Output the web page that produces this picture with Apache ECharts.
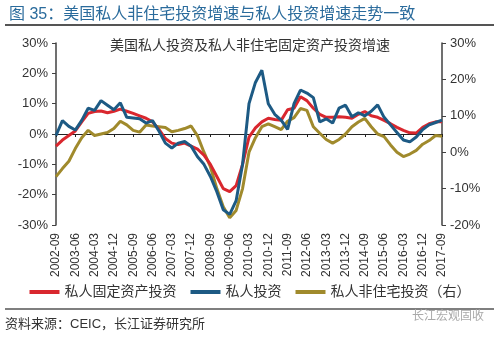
<!DOCTYPE html>
<html><head><meta charset="utf-8">
<script src="https://cdn.jsdelivr.net/npm/echarts@6/dist/echarts.min.js"></script>
<style>html,body{margin:0;padding:0;background:#fff}#c{width:500px;height:340px}</style>
</head><body><div id="c"></div>
<script>
var categories = (function(){var a=[];var y=2002,m=9;for(var i=0;i<61;i++){a.push(y+'-'+(m<10?'0'+m:m));m+=3;if(m>12){m-=12;y++;}}return a;})();
var privateFixed = [-4,-2,-0.5,1,4,6.8,7.4,7.6,7,7.5,8.2,7.5,6.8,6,5.2,4,1.5,-1.5,-3,-3.5,-3,-4,-5,-7,-10,-14,-18,-19,-17,-10,-1,2,4,5.2,4.8,4.5,8,8.5,12.3,11,8.5,6.5,5.5,5.5,5.7,5.5,5.2,6.5,7.4,6,5.5,4.5,3.4,2.2,1.2,0.4,0.3,2.2,3.4,4,4];
var privateInv = [-0.5,4.4,2.5,1.3,4.5,8.5,7.8,11,9.5,8,10.3,5.5,5.3,5,3.6,4.4,1,-3,-4.6,-3,-2.5,-4,-7.5,-10,-14,-19,-25,-26.5,-22,-10,10,17,21,10,6.5,4.6,1.5,10,14.5,13.5,12,4,5,3.6,8.5,9.5,5.7,7,6,7.5,9.6,5.5,3,0.5,-2,-2.6,-1,1.5,3,3.8,4.6];
var nonResInv = [-6.7,-4.5,-2.5,1,4,6,4.6,5,5.4,6.5,8.5,7.5,6,5.5,7.5,7.2,7,6.8,5.6,6,6.5,7.2,4.5,0,-4,-10,-15,-18,-16,-10,0,4,7,7.8,7,6.2,8.5,9.5,12,11.5,7,5.2,3.5,2.5,3.5,5,7,8.3,9.3,7,5,4.3,2,0,-1.2,-0.5,0.5,2.2,3.2,4.6,4.4];
var seriesNames = ['私人固定资产投资','私人投资','私人非住宅投资（右）'];
var chartTitle = '图 35：美国私人非住宅投资增速与私人投资增速走势一致';
var innerTitle = '美国私人投资及私人非住宅固定资产投资增速';
var sourceText = '资料来源：CEIC，长江证券研究所';

var FF = '"Liberation Sans", Arial, "Noto Sans CJK SC", sans-serif';
var chart = echarts.init(document.getElementById('c'));
var axisColor = '#404040';
chart.setOption({
  animation:false,
  textStyle:{fontFamily:FF},
  title:[
    {text:chartTitle,left:4,top:2,textStyle:{fontSize:16,fontWeight:'normal',color:'#2a6b9c',fontFamily:FF}},
    {text:innerTitle,left:'center',top:34,textStyle:{fontSize:14,fontWeight:'normal',color:'#333',fontFamily:FF}}
  ],
  graphic:[
    {type:'line',shape:{x1:5,y1:25,x2:494,y2:25},style:{stroke:'#555',lineWidth:2}},
    {type:'line',shape:{x1:5,y1:309,x2:494,y2:309},style:{stroke:'#555',lineWidth:1.5}},
    {type:'text',left:5,top:318,style:{text:sourceText,fontSize:13,fill:'#333',fontFamily:FF}},
    {type:'text',left:412,top:311,style:{text:'长江宏观固收',fontSize:12,fill:'#aaa',fontFamily:FF}}
  ],
  legend:{
    data:seriesNames,bottom:36,left:'center',itemWidth:30,itemHeight:4,itemGap:14,icon:'rect',
    textStyle:{fontSize:14,color:'#333',fontFamily:FF}
  },
  grid:{left:56,right:58,top:43,bottom:115},
  xAxis:[
    {type:'category',data:categories,boundaryGap:false,position:'bottom',
     axisLine:{show:false,onZero:false},axisTick:{show:false},
     axisLabel:{interval:2,rotate:90,fontSize:12,color:'#333',margin:8}},
    {type:'category',data:categories,boundaryGap:false,position:'bottom',
     axisLine:{show:true,onZero:true,onZeroAxisIndex:0,lineStyle:{color:'#222',width:1}},
     axisTick:{show:true,interval:2,length:3,lineStyle:{color:'#222'}},
     axisLabel:{show:false}}
  ],
  yAxis:[
    {type:'value',min:-30,max:30,interval:10,position:'left',
     axisLine:{show:true,lineStyle:{color:axisColor,width:1.5}},
     axisTick:{show:true,length:4,lineStyle:{color:axisColor}},
     splitLine:{show:false},
     axisLabel:{formatter:'{value}%',fontSize:13,color:'#333',margin:8}},
    {type:'value',min:-20,max:30,interval:10,position:'right',
     axisLine:{show:true,lineStyle:{color:axisColor,width:1.5}},
     axisTick:{show:true,length:4,lineStyle:{color:axisColor}},
     splitLine:{show:false},
     axisLabel:{formatter:'{value}%',fontSize:13,color:'#333',margin:8}}
  ],
  series:[
    {name:seriesNames[0],type:'line',data:privateFixed,xAxisIndex:0,yAxisIndex:0,symbol:'none',
     lineStyle:{color:'#d9272e',width:3},itemStyle:{color:'#d9272e'},z:2},
    {name:seriesNames[1],type:'line',data:privateInv,xAxisIndex:0,yAxisIndex:0,symbol:'none',
     lineStyle:{color:'#1d5a84',width:3},itemStyle:{color:'#1d5a84'},z:3},
    {name:seriesNames[2],type:'line',data:nonResInv,xAxisIndex:0,yAxisIndex:1,symbol:'none',
     lineStyle:{color:'#a08a2c',width:3},itemStyle:{color:'#a08a2c'},z:1}
  ]
});
</script></body></html>
